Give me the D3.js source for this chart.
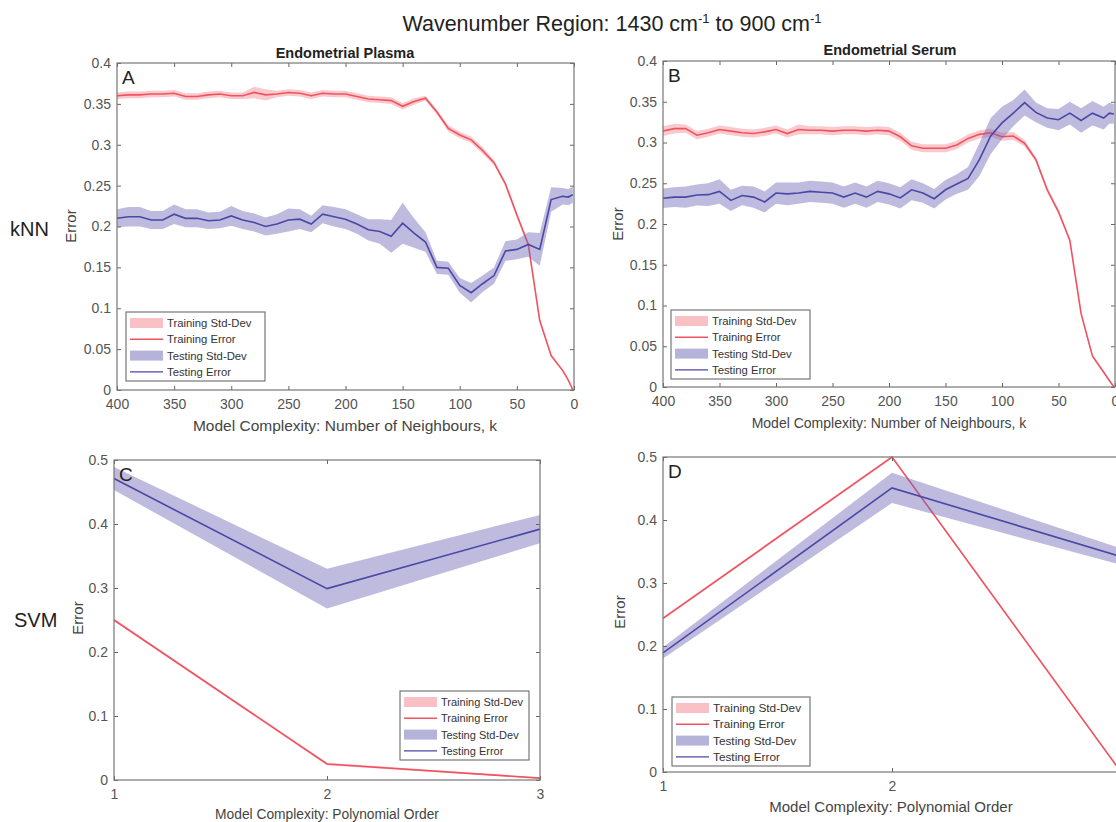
<!DOCTYPE html>
<html>
<head>
<meta charset="utf-8">
<script src="https://cdn.jsdelivr.net/npm/d3@7"></script>
<style>
  body { margin: 0; background: #fff; }
  svg { display: block; font-family: "Liberation Sans", Arial, sans-serif; }
</style>
</head>
<body>
<svg width="1116" height="822"></svg>
<script>
// k values used for the kNN panels (number of neighbours)
var kValues = [400,390,380,370,360,350,340,330,320,310,
               300,290,280,270,260,250,240,230,220,210,
               200,190,180,170,160,150,140,130,120,110,
               100,90,80,70,60,50,40,30,20,10,
               5,1];

// Panel A - Endometrial Plasma, kNN
var trainA = [.360,.361,.361,.362,.362,.363,.359,.359,.361,.362,
              .360,.360,.364,.361,.362,.364,.363,.360,.363,.362,
              .362,.359,.356,.355,.354,.347,.353,.357,.340,.320,
              .312,.306,.293,.278,.252,.214,.178,.085,.042,.024,
              .012,.000];
var trainSdA = [.004,.004,.004,.004,.004,.004,.004,.004,.004,.004,
                .004,.004,.007,.007,.004,.004,.004,.004,.004,.004,
                .004,.004,.004,.004,.004,.004,.004,.003,.003,.004,
                .004,.004,.004,.003,.003,.003,.003,.002,.002,.001,
                .001,.000];
var testA = [.210,.212,.212,.208,.208,.215,.210,.210,.207,.208,
             .213,.208,.205,.200,.203,.208,.209,.203,.215,.212,
             .209,.203,.196,.194,.188,.204,.192,.181,.150,.149,
             .128,.119,.130,.140,.170,.172,.178,.172,.233,.237,
             .236,.239];
var testSdA = [.011,.012,.012,.011,.011,.012,.011,.011,.010,.010,
               .012,.011,.011,.011,.012,.014,.012,.010,.011,.012,
               .012,.012,.013,.015,.020,.025,.018,.012,.008,.008,
               .009,.012,.010,.010,.012,.012,.015,.020,.015,.010,
               .010,.010];

// Panel B - Endometrial Serum, kNN
var trainB = [.314,.317,.317,.309,.312,.316,.314,.312,.311,.313,
              .316,.311,.316,.315,.315,.314,.315,.315,.314,.315,
              .314,.307,.296,.293,.293,.293,.297,.305,.310,.312,
              .307,.308,.299,.279,.242,.215,.180,.090,.038,.018,
              .008,.000];
var trainSdB = [.006,.006,.005,.005,.005,.005,.005,.005,.005,.005,
                .005,.005,.006,.005,.005,.005,.005,.005,.005,.005,
                .005,.005,.005,.005,.005,.005,.005,.005,.005,.005,
                .005,.005,.004,.003,.003,.003,.002,.002,.002,.001,
                .001,.000];
var testB = [.2315,.233,.233,.2356,.236,.240,.229,.235,.233,.227,
             .238,.237,.238,.240,.239,.238,.233,.238,.233,.240,
             .237,.232,.242,.238,.231,.242,.249,.256,.279,.308,
             .324,.336,.349,.337,.330,.328,.336,.327,.336,.330,
             .336,.335];
var testSdB = [.012,.012,.013,.013,.014,.015,.013,.012,.013,.013,
               .013,.014,.013,.013,.013,.013,.013,.013,.013,.013,
               .013,.013,.013,.012,.012,.012,.012,.014,.020,.022,
               .020,.016,.016,.012,.012,.013,.014,.015,.015,.014,
               .013,.012];

// SVM panels (polynomial order)
var polyOrder = [1, 2, 3];
var trainC = [.250, .025, .003];
var trainSdC = [.002, .002, .001];
var testC = [.471, .299, .392];
var testSdC = [.018, .031, .022];

var trainD = [.244, .500, .000];
var trainSdD = [.002, .002, .001];
var testD = [.189, .451, .342];
var testSdD = [.009, .024, .013];

var kTicks = [400,350,300,250,200,150,100,50,0];
var knnYTicks = [0,.05,.1,.15,.2,.25,.3,.35,.4];
var svmYTicks = [0,.1,.2,.3,.4,.5];
var legendLabels = ["Training Std-Dev","Training Error","Testing Std-Dev","Testing Error"];

var trainColor = "#f0535f", testColor = "#4b47a6";
var trainBand = "#f06470", testBand = "#6e68b8";

var svg = d3.select("svg");

// titles
svg.append("text").attr("x", 612).attr("y", 31).attr("text-anchor", "middle")
  .attr("font-size", 21.5).attr("fill", "#222")
  .html('Wavenumber Region: 1430 cm<tspan dy="-8" font-size="13">-1</tspan><tspan dy="8"> to 900 cm</tspan><tspan dy="-8" font-size="13">-1</tspan>');
svg.append("text").attr("x", 345).attr("y", 58).attr("text-anchor", "middle")
  .attr("font-size", 14.5).attr("font-weight", "bold").attr("fill", "#222").text("Endometrial Plasma");
svg.append("text").attr("x", 890).attr("y", 55).attr("text-anchor", "middle")
  .attr("font-size", 14.5).attr("font-weight", "bold").attr("fill", "#222").text("Endometrial Serum");
svg.append("text").attr("x", 10).attr("y", 236).attr("font-size", 20).attr("fill", "#222").text("kNN");
svg.append("text").attr("x", 14).attr("y", 627).attr("font-size", 20).attr("fill", "#222").text("SVM");

function fmt(d) { return d === 0 ? "0" : String(+d.toFixed(2)); }

function panel(p) {
  var x = d3.scaleLinear().domain(p.xDomain).range([p.left, p.right]);
  var y = d3.scaleLinear().domain(p.yDomain).range([p.bottom, p.top]);
  var g = svg.append("g");

  var pts = p.xs.map(function(v, i) {
    return {x: v, tr: p.train[i], trs: p.trainSd[i], te: p.test[i], tes: p.testSd[i]};
  });

  var bandTr = d3.area().x(function(d) { return x(d.x); })
    .y0(function(d) { return y(d.tr - d.trs); }).y1(function(d) { return y(d.tr + d.trs); });
  var bandTe = d3.area().x(function(d) { return x(d.x); })
    .y0(function(d) { return y(d.te - d.tes); }).y1(function(d) { return y(d.te + d.tes); });
  var lineTr = d3.line().x(function(d) { return x(d.x); }).y(function(d) { return y(d.tr); });
  var lineTe = d3.line().x(function(d) { return x(d.x); }).y(function(d) { return y(d.te); });

  g.append("path").datum(pts).attr("d", bandTr).attr("fill", trainBand).attr("fill-opacity", 0.35);
  g.append("path").datum(pts).attr("d", lineTr).attr("fill", "none").attr("stroke", trainColor).attr("stroke-width", 1.6);
  g.append("path").datum(pts).attr("d", bandTe).attr("fill", testBand).attr("fill-opacity", 0.45);
  g.append("path").datum(pts).attr("d", lineTe).attr("fill", "none").attr("stroke", testColor).attr("stroke-width", 1.6);

  // axes with inward ticks on all four sides
  var xFmt = function(d) { return d > p.xMaxLabel ? "" : d3.format("d")(d); };
  var axB = g.append("g").attr("transform", "translate(0," + p.bottom + ")")
    .call(d3.axisBottom(x).tickValues(p.xTicks).tickSize(-4).tickPadding(7).tickFormat(xFmt));
  var axT = g.append("g").attr("transform", "translate(0," + p.top + ")")
    .call(d3.axisTop(x).tickValues(p.xTicks).tickSize(-4).tickFormat(""));
  var axL = g.append("g").attr("transform", "translate(" + p.left + ",0)")
    .call(d3.axisLeft(y).tickValues(p.yTicks).tickSize(-4).tickPadding(6).tickFormat(fmt));
  var axR = g.append("g").attr("transform", "translate(" + p.right + ",0)")
    .call(d3.axisRight(y).tickValues(p.yTicks).tickSize(-4).tickFormat(""));
  [axB, axT, axL, axR].forEach(function(a) {
    a.select(".domain").remove();
    a.selectAll(".tick line").attr("stroke", "#666");
    a.selectAll("text").attr("font-size", 14).attr("fill", "#555").attr("font-family", null);
  });
  axB.selectAll("text").attr("dy", "0.85em");

  g.append("rect").attr("x", p.left).attr("y", p.top)
    .attr("width", p.right - p.left).attr("height", p.bottom - p.top)
    .attr("fill", "none").attr("stroke", "#777").attr("stroke-width", 1.2);

  g.append("text").attr("x", p.left + 5).attr("y", p.top + 21)
    .attr("font-size", 19).attr("fill", "#222").text(p.letter);

  g.append("text").attr("transform", "translate(" + p.ylabX + "," + p.ylabY + ") rotate(-90)")
    .attr("text-anchor", "middle").attr("font-size", 15).attr("fill", "#444").text("Error");
  g.append("text").attr("x", p.xlabX).attr("y", p.xlabY).attr("text-anchor", "middle")
    .attr("font-size", p.xlabSize).attr("fill", "#444").text(p.xlabel);

  // legend
  var lg = g.append("g").attr("transform", "translate(" + p.leg[0] + "," + p.leg[1] + ")");
  lg.append("rect").attr("width", p.leg[2]).attr("height", 69)
    .attr("fill", "#fff").attr("stroke", "#777").attr("stroke-width", 1.2);
  legendLabels.forEach(function(lab, i) {
    var cy = 11 + i * 16.3;
    var col = i < 2 ? trainColor : testColor;
    if (i % 2 === 0) {
      lg.append("rect").attr("x", 4).attr("y", cy - 5).attr("width", 33).attr("height", 10)
        .attr("fill", i < 2 ? trainBand : testBand).attr("fill-opacity", i < 2 ? 0.4 : 0.5);
    } else {
      lg.append("line").attr("x1", 4).attr("x2", 37).attr("y1", cy).attr("y2", cy)
        .attr("stroke", col).attr("stroke-width", 1.4);
    }
    lg.append("text").attr("x", 41).attr("y", cy + 4).attr("font-size", p.legSize).attr("fill", "#333").text(lab);
  });
}

var knnLabel = "Model Complexity: Number of Neighbours, k";
var svmLabel = "Model Complexity: Polynomial Order";

panel({letter: "A", left: 117, right: 574, top: 63, bottom: 390,
  xDomain: [400, 0], yDomain: [0, .4], xTicks: kTicks, yTicks: knnYTicks, xMaxLabel: 400,
  xs: kValues, train: trainA, trainSd: trainSdA, test: testA, testSd: testSdA,
  ylabX: 76, ylabY: 226, xlabX: 345, xlabY: 431, xlabSize: 15.5, xlabel: knnLabel,
  leg: [126, 312, 139], legSize: 11.3});
panel({letter: "B", left: 663, right: 1115, top: 61, bottom: 387,
  xDomain: [400, 0], yDomain: [0, .4], xTicks: kTicks, yTicks: knnYTicks, xMaxLabel: 400,
  xs: kValues, train: trainB, trainSd: trainSdB, test: testB, testSd: testSdB,
  ylabX: 623, ylabY: 224, xlabX: 889, xlabY: 428, xlabSize: 14, xlabel: knnLabel,
  leg: [671, 310, 139], legSize: 11.3});
panel({letter: "C", left: 114, right: 540, top: 460, bottom: 780,
  xDomain: [1, 3], yDomain: [0, .5], xTicks: polyOrder, yTicks: svmYTicks, xMaxLabel: 3,
  xs: polyOrder, train: trainC, trainSd: trainSdC, test: testC, testSd: testSdC,
  ylabX: 83, ylabY: 618, xlabX: 327, xlabY: 819, xlabSize: 13.8, xlabel: svmLabel,
  leg: [400, 691, 129], legSize: 11});
panel({letter: "D", left: 663, right: 1121, top: 457, bottom: 772,
  xDomain: [1, 3], yDomain: [0, .5], xTicks: polyOrder, yTicks: svmYTicks, xMaxLabel: 2,
  xs: polyOrder, train: trainD, trainSd: trainSdD, test: testD, testSd: testSdD,
  ylabX: 625, ylabY: 612, xlabX: 891, xlabY: 812, xlabSize: 15, xlabel: svmLabel,
  leg: [672, 697, 138], legSize: 11.8});
</script>
</body>
</html>
